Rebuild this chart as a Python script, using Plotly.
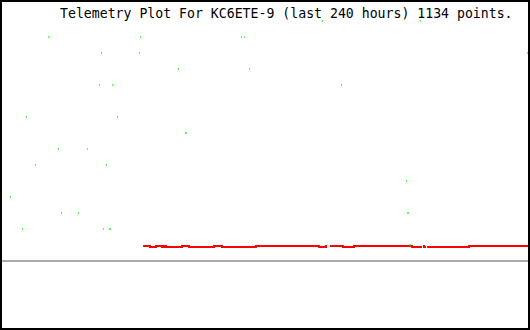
import plotly.graph_objects as go

# ---- data (hours ago, value) ----
green_hours = [-93.96, -49.58,
               -218.04, -176.38, -130.64, -129.28, -0.68,
               -194.04, -176.83, -1.13,
               -159.17, -127.02,
               -194.94, -189.06, -85.36,
               -228.00, -186.79,
               -156.00, -155.55,
               -213.51, -200.38,
               -223.92, -191.77,
               -55.92,
               -235.25,
               -212.15, -204.45, -55.47, -55.02,
               -229.81, -193.13, -190.42, -189.96,
               -54.57, -54.11]
green_values = [15, 15,
                14, 14, 14, 14, 14,
                13, 13, 13,
                12, 12,
                11, 11, 11,
                9, 9,
                8, 8,
                7, 7,
                6, 6,
                5,
                4,
                3, 3, 3, 3,
                2, 2, 2, 2,
                1, 1]

U, L = 0.9375, 0.875
red_hours = [-175.2, -172.1, -169.4, -166.6, -165.7, -164.8, -157.6, -154.4,
             -143.1, -139.5, -124.1, -95.5, -92.4, -91.9, -91.9, -90.6,
             -84.7, -79.7, -53.4, -48.9, -48.9, -48.5, -48.0, -47.1, -47.1,
             -46.6, -27.6, 0.0]
red_values = [U, L, U, L, U, L, U, L,
              U, L, U, L, U, U, None, U,
              L, U, L, L, None, U, L, L, None,
              L, U, U]

title_text = "Telemetry Plot For KC6ETE-9 (last 240 hours) 1134 points."

fig = go.Figure()
fig.add_trace(go.Scatter(x=red_hours, y=red_values, mode="lines",
                         line=dict(color="#ff0000", width=2, shape="hv"),
                         connectgaps=False, hoverinfo="skip"))
fig.add_trace(go.Scatter(x=green_hours, y=green_values, mode="markers",
                         marker=dict(symbol="line-ns", size=1,
                                     line=dict(color="#00ff00", width=1)),
                         hoverinfo="skip"))

fig.update_layout(
    width=530, height=330,
    margin=dict(l=0, r=0, t=0, b=0),
    paper_bgcolor="white", plot_bgcolor="white",
    showlegend=False,
    xaxis=dict(range=[-240, 0], showgrid=False, zeroline=False,
               showticklabels=False, ticks="", showline=False, fixedrange=True),
    yaxis=dict(range=[-4.3125, 16.3125], showgrid=False, zeroline=True,
               zerolinecolor="#aaaaaa", zerolinewidth=2,
               showticklabels=False, ticks="", showline=False, fixedrange=True),
    annotations=[dict(text=title_text, xref="paper", yref="paper",
                      x=58 / 530, y=1 - 4 / 330, xanchor="left", yanchor="top",
                      showarrow=False,
                      font=dict(family="DejaVu Sans Mono", size=13.2, color="black"))],
    shapes=[dict(type="rect", xref="paper", yref="paper",
                 x0=1 / 530, x1=529 / 530, y0=1 / 330, y1=329 / 330,
                 line=dict(color="black", width=2), layer="above")],
)

fig.write_html("out.html", config={"displayModeBar": False})
